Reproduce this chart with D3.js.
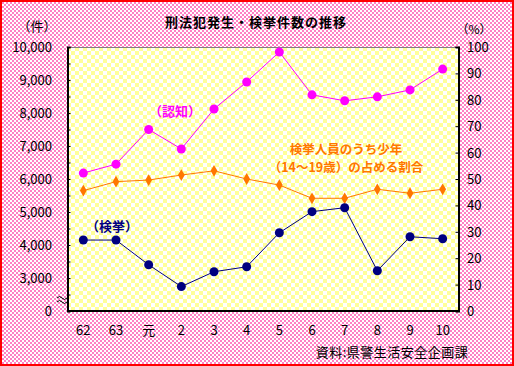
<!DOCTYPE html>
<html>
<head>
<meta charset="utf-8">
<script src="https://cdn.jsdelivr.net/npm/d3@7/dist/d3.min.js"></script>
<style>
  body { margin: 0; }
  text { font-family: "Noto Sans CJK JP", sans-serif; }
</style>
</head>
<body>
<div class="mainVis"></div>
<script>
var years = ["62", "63", "元", "2", "3", "4", "5", "6", "7", "8", "9", "10"]
var ninchi = [6180, 6450, 7500, 6910, 8120, 8940, 9850, 8550, 8370, 8490, 8700, 9330]
var kenkyo = [4150, 4150, 3400, 2740, 3190, 3340, 4370, 5010, 5130, 3220, 4250, 4190]
var shonen = [45.6, 49.0, 49.6, 51.5, 53.1, 50.0, 47.7, 42.7, 42.7, 46.1, 44.6, 46.1]
var leftTicks = [3000, 4000, 5000, 6000, 7000, 8000, 9000, 10000]
var rightTicks = [0, 10, 20, 30, 40, 50, 60, 70, 80, 90, 100]

var width = 514, height = 366
var plot = { left: 67, right: 459, top: 47, bottom: 311 }

var svg = d3.select(".mainVis")
    .append("svg")
    .attr("width", width)
    .attr("height", height)

var defs = svg.append("defs")
// pink checker background
var pink = defs.append("pattern").attr("id", "pinkCheck")
    .attr("width", 4).attr("height", 4).attr("patternUnits", "userSpaceOnUse")
pink.append("rect").attr("width", 4).attr("height", 4).attr("fill", "#ffffff")
pink.append("rect").attr("width", 2).attr("height", 2).attr("fill", "#ff80c4")
pink.append("rect").attr("x", 2).attr("y", 2).attr("width", 2).attr("height", 2).attr("fill", "#ff80c4")
// yellow checker plot area
var yel = defs.append("pattern").attr("id", "yelCheck")
    .attr("width", 8).attr("height", 8).attr("patternUnits", "userSpaceOnUse")
    .attr("x", plot.left).attr("y", plot.top)
yel.append("rect").attr("width", 8).attr("height", 8).attr("fill", "#ffffff")
yel.append("rect").attr("width", 4).attr("height", 4).attr("fill", "#ffff99")
yel.append("rect").attr("x", 4).attr("y", 4).attr("width", 4).attr("height", 4).attr("fill", "#ffff99")

svg.append("rect")
    .attr("x", 1).attr("y", 1)
    .attr("width", width - 2).attr("height", height - 2)
    .attr("fill", "url(#pinkCheck)")
    .attr("stroke", "#ff0000")
    .attr("stroke-width", 2)

svg.append("rect")
    .attr("x", plot.left).attr("y", plot.top)
    .attr("width", plot.right - plot.left).attr("height", plot.bottom - plot.top)
    .attr("fill", "url(#yelCheck)")

var x = d3.scalePoint()
    .domain(years)
    .range([plot.left, plot.right])
    .padding(0.5)

// left axis is broken: 2000 is drawn at the bottom and labelled 0
var yLeft = d3.scaleLinear().domain([2000, 10000]).range([plot.bottom, plot.top])
var yRight = d3.scaleLinear().domain([0, 100]).range([plot.bottom, plot.top])

// frame
svg.append("line")
    .attr("x1", plot.left).attr("x2", plot.right)
    .attr("y1", plot.top + 0.5).attr("y2", plot.top + 0.5)
    .attr("stroke", "#808080")

var leftAxis = d3.axisLeft(yLeft)
    .tickValues(d3.range(2000, 10001, 500))
    .tickSize(-3)
    .tickFormat("")
svg.append("g")
    .attr("transform", "translate(" + (plot.left + 0.5) + ",0)")
    .call(leftAxis)
    .call(function(g) { g.select(".domain").attr("stroke", "#000").attr("stroke-width", 2) })

var rightAxis = d3.axisRight(yRight)
    .tickValues(rightTicks)
    .tickSize(-3)
    .tickFormat("")
svg.append("g")
    .attr("transform", "translate(" + (plot.right - 0.5) + ",0)")
    .call(rightAxis)
    .call(function(g) { g.select(".domain").attr("stroke", "#000").attr("stroke-width", 2) })

svg.append("line")
    .attr("x1", plot.left).attr("x2", plot.right)
    .attr("y1", plot.bottom).attr("y2", plot.bottom)
    .attr("stroke", "#000")
    .attr("stroke-width", 2)

// tick labels
svg.selectAll(".lLabel")
    .data(leftTicks)
    .enter()
    .append("text")
    .attr("x", 52)
    .attr("y", function(d) { return yLeft(d) + 5 })
    .attr("text-anchor", "end")
    .style("font-size", "13px")
    .text(function(d) { return d3.format(",")(d) })

svg.append("text")
    .attr("x", 52).attr("y", yLeft(2000) + 5)
    .attr("text-anchor", "end")
    .style("font-size", "13px")
    .text("0")

svg.selectAll(".rLabel")
    .data(rightTicks)
    .enter()
    .append("text")
    .attr("x", 467)
    .attr("y", function(d) { return yRight(d) + 5 })
    .style("font-size", "13px")
    .text(function(d) { return d })

svg.selectAll(".xLabel")
    .data(years)
    .enter()
    .append("text")
    .attr("x", function(d) { return x(d) })
    .attr("y", 335)
    .attr("text-anchor", "middle")
    .style("font-size", "13px")
    .text(function(d) { return d })

// axis break mark
var wave = "M-5,0 q2.5,-3 5,0 t5,0"
svg.append("path").attr("d", wave).attr("transform", "translate(62,298)")
    .attr("fill", "none").attr("stroke", "#000")
svg.append("path").attr("d", wave).attr("transform", "translate(62,302)")
    .attr("fill", "none").attr("stroke", "#000")

// series
function drawSeries(values, yScale, color, shape) {
    var line = d3.line()
        .x(function(d, i) { return x(years[i]) })
        .y(function(d) { return yScale(d) })
    svg.append("path")
        .datum(values)
        .attr("d", line)
        .attr("fill", "none")
        .attr("stroke", color)
        .attr("stroke-width", 1)
    if (shape == "circle") {
        svg.selectAll(".pt-" + color.slice(1))
            .data(values)
            .enter()
            .append("circle")
            .attr("cx", function(d, i) { return x(years[i]) })
            .attr("cy", function(d) { return yScale(d) })
            .attr("r", 4.5)
            .attr("fill", color)
    } else {
        svg.selectAll(".pt-" + color.slice(1))
            .data(values)
            .enter()
            .append("path")
            .attr("d", d3.symbol(d3.symbolDiamond, 40))
            .attr("transform", function(d, i) { return "translate(" + x(years[i]) + "," + yScale(d) + ")" })
            .attr("fill", color)
    }
}

drawSeries(ninchi, yLeft, "#ff00ff", "circle")
drawSeries(shonen, yRight, "#ff7700", "diamond")
drawSeries(kenkyo, yLeft, "#000080", "circle")

// titles and labels
svg.append("text")
    .attr("x", 256).attr("y", 27)
    .attr("text-anchor", "middle")
    .style("font-size", "13px").style("font-weight", "bold")
    .style("letter-spacing", "1px")
    .text("刑法犯発生・検挙件数の推移")

svg.append("text").attr("x", 37).attr("y", 31)
    .attr("text-anchor", "middle").style("font-size", "13px").text("（件）")
svg.append("text").attr("x", 474).attr("y", 34)
    .attr("text-anchor", "middle").style("font-size", "12px").text("（%）")

svg.append("text").attr("x", 175).attr("y", 116)
    .attr("text-anchor", "middle").attr("fill", "#ff00ff")
    .style("font-size", "13px").style("font-weight", "bold").text("（認知）")

svg.append("text").attr("x", 346).attr("y", 154)
    .attr("text-anchor", "middle").attr("fill", "#ff7700")
    .style("font-size", "12.5px").style("font-weight", "bold").text("検挙人員のうち少年")
svg.append("text").attr("x", 346).attr("y", 172)
    .attr("text-anchor", "middle").attr("fill", "#ff7700")
    .style("font-size", "12.5px").style("font-weight", "bold").text("（14～19歳）の占める割合")

svg.append("text").attr("x", 112).attr("y", 231)
    .attr("text-anchor", "middle").attr("fill", "#000080")
    .style("font-size", "13px").style("font-weight", "bold").text("（検挙）")

svg.append("text").attr("x", 392).attr("y", 357)
    .attr("text-anchor", "middle")
    .style("font-size", "13px").style("letter-spacing", "0.5px").text("資料:県警生活安全企画課")
</script>
</body>
</html>
